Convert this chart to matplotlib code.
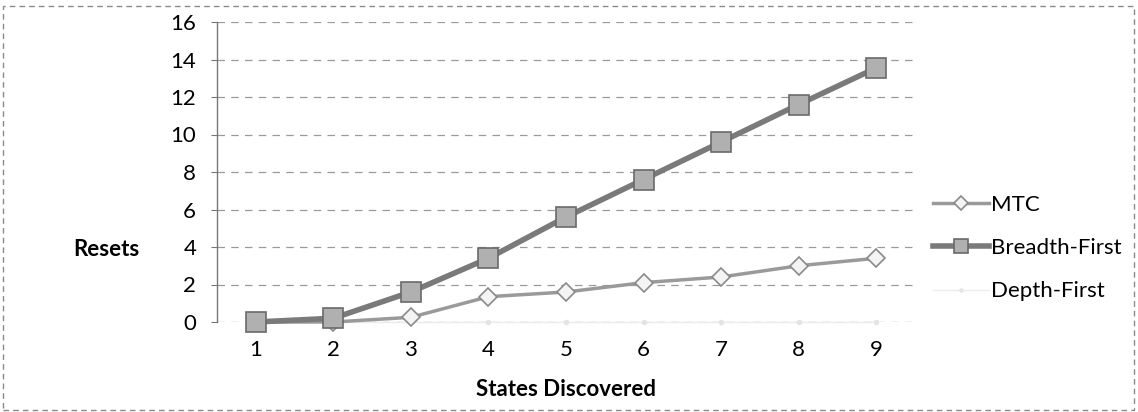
import matplotlib
matplotlib.use("Agg")
import matplotlib.pyplot as plt
from matplotlib.patches import Rectangle

plt.rcParams['font.family'] = ['Lato', 'DejaVu Sans']

# data
states = [1, 2, 3, 4, 5, 6, 7, 8, 9]
mtc = [0.0, 0.0, 0.25, 1.35, 1.6, 2.1, 2.4, 3.0, 3.4]
breadth_first = [0.0, 0.2, 1.6, 3.4, 5.6, 7.6, 9.6, 11.6, 13.55]
depth_first = [0, 0, 0, 0, 0, 0, 0, 0, 0]
yticks = [0, 2, 4, 6, 8, 10, 12, 14, 16]

W, H = 1138, 412
FS = 16
fig = plt.figure(figsize=(W / 100, H / 100), dpi=100)
# plot area: x 217..915 px, y 22..322 px
ax = fig.add_axes([217 / W, 1 - 322 / H, (915 - 217) / W, 300 / H])

ax.plot(states, depth_first, color="#ececec", lw=1.0, marker="o", ms=3,
        mfc="#e4e4e4", mec="#e4e4e4", label="Depth-First", zorder=2)
ax.plot(states, mtc, color="#9a9a9a", lw=2.5, marker="D", ms=9,
        mfc="#f4f4f4", mec="#8a8a8a", mew=1.2, label="MTC", zorder=3)
ax.plot(states, breadth_first, color="#7a7a7a", lw=4.0, marker="s", ms=14,
        mfc="#b0b0b0", mec="#6a6a6a", mew=1.2, label="Breadth-First", zorder=4)

ax.set_xlim(0.5, 9.5)
ax.set_ylim(0, 16)
ax.set_xticks(states)
ax.set_yticks(yticks)
ax.tick_params(axis="x", length=0, labelsize=FS, pad=13)
ax.tick_params(axis="y", length=4, width=0.8, color="#777777", labelsize=FS, pad=11)
for s in ("top", "right", "bottom"):
    ax.spines[s].set_visible(False)
ax.spines["left"].set_color("#777777")
ax.spines["left"].set_linewidth(1.0)
ax.yaxis.grid(True, color="#9a9a9a", lw=0.9, ls=(0, (6, 5)))
ax.set_axisbelow(True)
for ln in ax.lines:
    ln.set_clip_on(False)

fig.text(106 / W, 1 - 250 / H, "Resets", ha="center", va="center",
         fontsize=FS, fontweight="bold")
fig.text(566 / W, 1 - 390 / H, "States Discovered", ha="center", va="center",
         fontsize=FS, fontweight="bold")

h, l = ax.get_legend_handles_labels()
order = [1, 2, 0]
fig.legend([h[i] for i in order], [l[i] for i in order], loc="center left",
           bbox_to_anchor=(922 / W, 1 - 248 / H), frameon=False, fontsize=FS,
           handlelength=2.5, labelspacing=1.05, handletextpad=0.1, borderpad=0,
           markerscale=0.75)

fig.add_artist(Rectangle((3 / W, 2 / H), (W - 7) / W, (H - 8) / H,
                         transform=fig.transFigure, fill=False,
                         ec="#8a8a8a", lw=1.0, ls=(0, (4, 3))))

fig.savefig("out.png", dpi=100)
